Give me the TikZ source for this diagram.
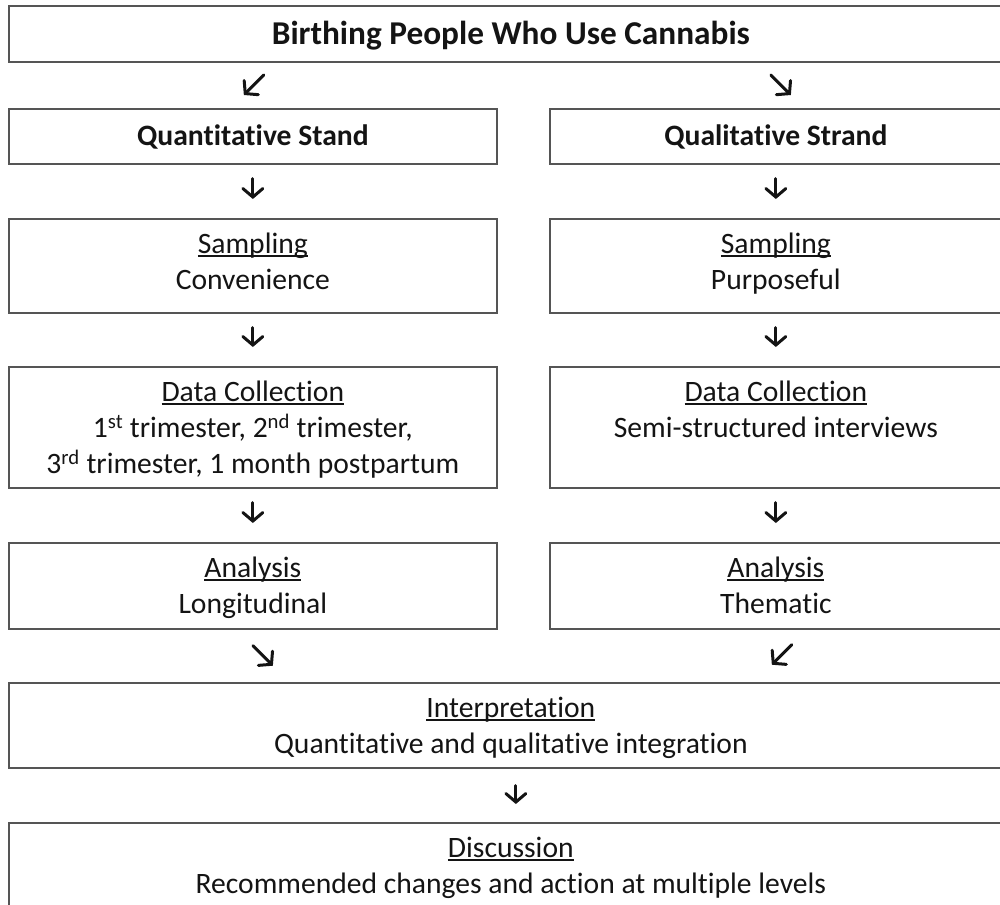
\documentclass[tikz,border=0pt]{standalone}
\usepackage{fontspec}
\setmainfont{Carlito}[Ligatures=NoCommon]
\usetikzlibrary{arrows.meta,calc}

% heading with a close underline, as in a word processor
\newcommand\ulhead[1]{\setbox0=\hbox{#1}\rlap{\rule[-3.2pt]{\wd0}{1.5pt}}\box0}

\definecolor{boxline}{RGB}{85,85,85}
\definecolor{ink}{RGB}{20,20,20}

% cells: text starts at the top of the cell, as in a table
\tikzset{
  box/.style={draw=boxline, line width=1.7pt, anchor=north west, inner sep=0pt,
              align=flush center, text=ink, font=\fontsize{29.6}{36}\selectfont},
  cell/.style 2 args={box, text width=#1, text height=34.5pt, text depth=#2-34.5pt},
  flow/.style={line width=3pt, line cap=round, draw=ink,
               -{Straight Barb[length=8.5pt,width=20pt,line cap=round]}}
}

\begin{document}
\begin{tikzpicture}[x=1pt,y=-1pt]
\useasboundingbox (0,0) rectangle (1000,904);
\fill[white] (0,0) rectangle (1000,904);
\clip (0,0) rectangle (1000,904);

% population
\node[box, text width=1004pt, text height=38.5pt, text depth=17.5pt,
      font=\fontsize{33.3}{40}\selectfont\bfseries]
  (pop) at (8,5) {Birthing People Who Use Cannabis};

% two strands
\node[box, text width=488pt, text height=36.5pt, text depth=18.5pt,
      font=\fontsize{29.6}{36}\selectfont\bfseries]
  (qn) at (8,108) {Quantitative Stand};
\node[box, text width=452pt, text height=36.5pt, text depth=18.5pt,
      font=\fontsize{29.6}{36}\selectfont\bfseries]
  (ql) at (549,108) {Qualitative Strand};

% sampling
\node[cell={488pt}{94pt}] (sn) at (8,218)
  {\ulhead{Sampling}\\Convenience};
\node[cell={452pt}{94pt}] (sl) at (549,218)
  {\ulhead{Sampling}\\Purposeful};

% data collection
\node[cell={488pt}{121pt}] (dn) at (8,366)
  {\ulhead{Data Collection}\\
   1\textsuperscript{st} trimester, 2\textsuperscript{nd} trimester,\\
   3\textsuperscript{rd} trimester, 1 month postpartum};
\node[cell={452pt}{121pt}] (dl) at (549,366)
  {\ulhead{Data Collection}\\Semi-structured interviews};

% analysis
\node[cell={488pt}{86pt}] (an) at (8,542)
  {\ulhead{Analysis}\\Longitudinal};
\node[cell={452pt}{86pt}] (al) at (549,542)
  {\ulhead{Analysis}\\Thematic};

% merged phases
\node[cell={1004pt}{85pt}] (int) at (8,682)
  {\ulhead{Interpretation}\\Quantitative and qualitative integration};
\node[cell={1004pt}{85pt}] (dis) at (8,822)
  {\ulhead{Discussion}\\Recommended changes and action at multiple levels};

% split into strands
\draw[flow] ($(qn.north)+(11,-33)$) -- ($(qn.north)+(-9,-13)$);
\draw[flow] ($(ql.north)+(-5,-33)$) -- ($(ql.north)+(15,-13)$);

% down the strands
\draw[flow] ($(qn.south)+(0,14)$) -- ($(sn.north)+(0,-19)$);
\draw[flow] ($(ql.south)+(0,14)$) -- ($(sl.north)+(0,-19)$);
\draw[flow] ($(sn.south)+(0,14)$) -- ($(dn.north)+(0,-19)$);
\draw[flow] ($(sl.south)+(0,14)$) -- ($(dl.north)+(0,-19)$);
\draw[flow] ($(dn.south)+(0,14)$) -- ($(an.north)+(0,-19)$);
\draw[flow] ($(dl.south)+(0,14)$) -- ($(al.north)+(0,-19)$);

% strands merge
\draw[flow] ($(an.south)+(0,16)$) -- ($(an.south)+(20,36)$);
\draw[flow] ($(al.south)+(16,15)$) -- ($(al.south)+(-4,35)$);

% interpretation to discussion
\draw[flow] ($(int.south)+(5,17)$) -- ($(dis.north)+(5,-18)$);
\end{tikzpicture}
\end{document}
